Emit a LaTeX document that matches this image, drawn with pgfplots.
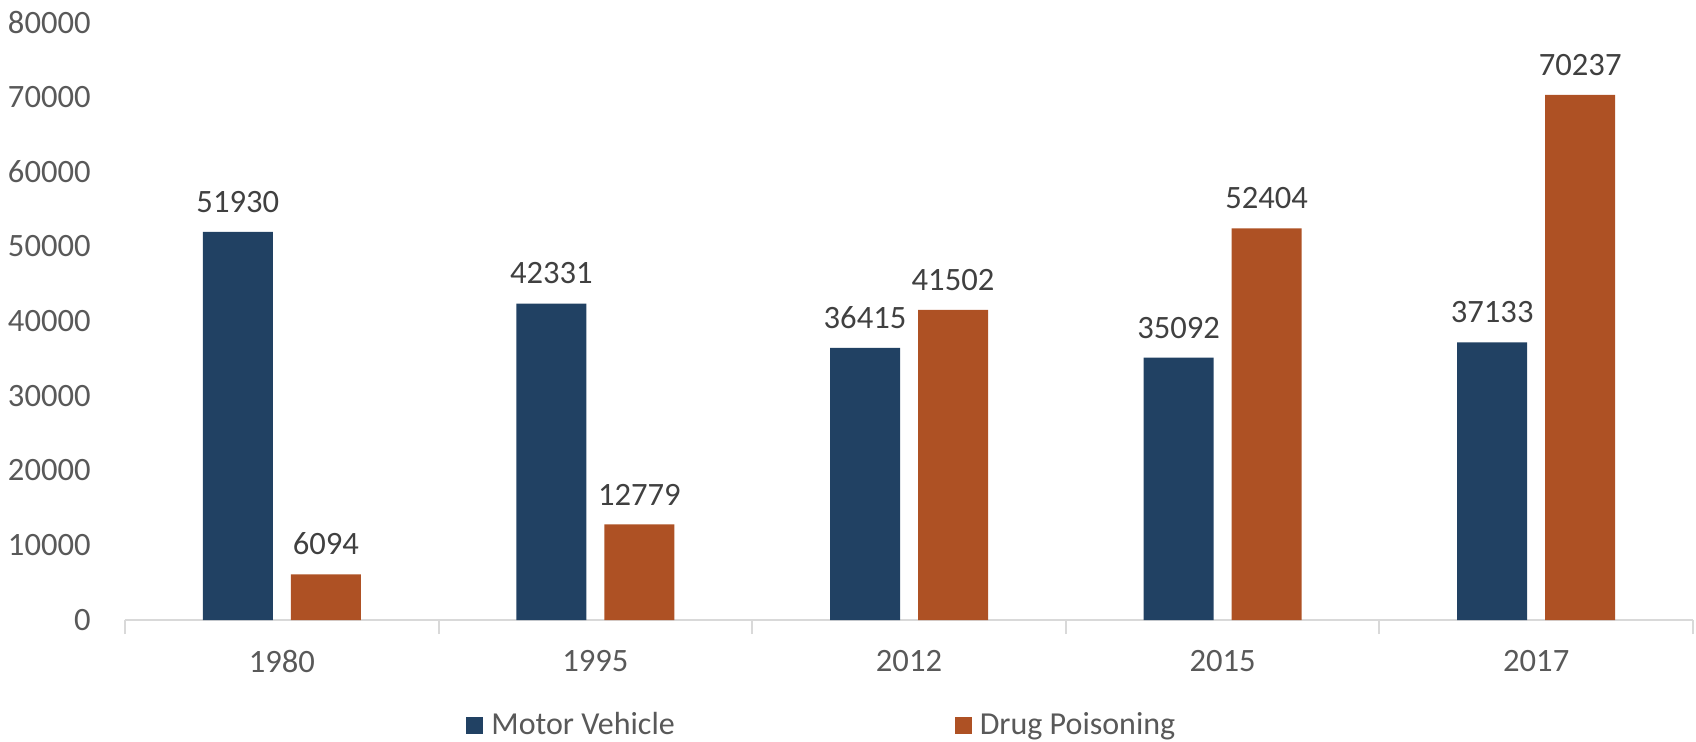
\documentclass[border=0pt]{standalone}
\usepackage{fontspec}
\setmainfont{Carlito}
\usepackage{pgfplots}
\pgfplotsset{compat=1.18}
\definecolor{mvblue}{HTML}{214163}
\definecolor{dporange}{HTML}{AE5124}
\definecolor{ticktext}{HTML}{595959}
\definecolor{labeltext}{HTML}{404040}
\definecolor{axisgray}{HTML}{D9D9D9}
\begin{document}
\begin{tikzpicture}
\begin{axis}[
  at={(0,0)}, anchor=south west,
  scale only axis,
  width=784pt, height=299pt,
  xmin=-0.5, xmax=4.5,
  ymin=0, ymax=80000,
  ytick={0,10000,...,80000},
  scaled y ticks=false,
  /pgf/number format/.cd, 1000 sep={}, assume math mode=true, /pgfplots/.cd,
  xtick={0,1,2,3,4},
  xticklabels={1980,1995,2012,2015,2017},
  minor xtick={-0.5,0.5,1.5,2.5,3.5,4.5},
  major tick length=0pt,
  minor tick length=7pt,
  tick align=outside,
  minor tick style={draw=axisgray, line width=1pt},
  axis x line*=bottom,
  axis y line*=left,
  x axis line style={draw=axisgray, line width=1pt},
  y axis line style={draw=none},
  tick label style={font=\fontsize{16.3}{19}\selectfont, text=ticktext},
  yticklabel style={anchor=east, inner sep=0pt, xshift=-17pt},
  xticklabel style={anchor=north, inner sep=0pt, yshift=-15pt},
  ybar,
  bar width=35pt,
  nodes near coords,
  every node near coord/.append style={font=\fontsize{16.3}{19}\selectfont, text=labeltext, anchor=south, inner sep=0pt, yshift=9.5pt},
  legend columns=2,
  legend style={at={(0.2175,-0.1756)}, anchor=west, draw=none, inner sep=0pt,
    font=\fontsize{16}{19}\selectfont, text=ticktext,
    nodes={inner sep=0pt},
    /tikz/every odd column/.append style={column sep=4pt},
    /tikz/every even column/.append style={column sep=140pt}},
  legend image code/.code={\fill[#1] (0pt,-4.25pt) rectangle (8.5pt,4.25pt);},
]
\addplot[fill=mvblue, draw=none, bar shift=-22pt] coordinates {(0,51930) (1,42331) (2,36415) (3,35092) (4,37133)};
\addlegendentry{Motor Vehicle}
\addplot[fill=dporange, draw=none, bar shift=22pt] coordinates {(0,6094) (1,12779) (2,41502) (3,52404) (4,70237)};
\addlegendentry{Drug Poisoning}
\end{axis}
\useasboundingbox (-62.5pt,-60.5pt) rectangle (785.5pt,310pt);
\end{tikzpicture}
\end{document}
